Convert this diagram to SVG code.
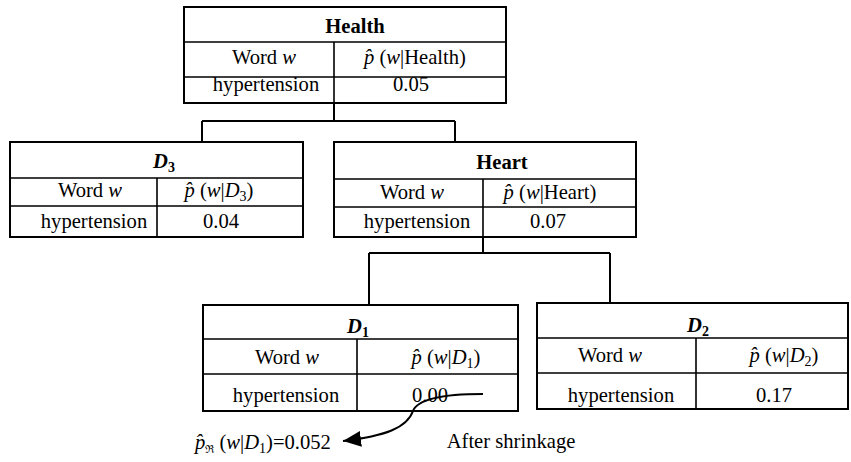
<svg xmlns="http://www.w3.org/2000/svg" width="851" height="462" viewBox="0 0 851 462" font-family="'Liberation Serif', 'DejaVu Serif', 'Times New Roman', serif">
<style>
text{font-family:'Liberation Serif','DejaVu Serif','Times New Roman',serif;font-size:20.6px;fill:#000;text-anchor:middle}
.b{font-weight:bold}
.i{font-style:italic}
.frame{fill:#fff;stroke:#000;stroke-width:2}
.grid{stroke:#000;stroke-width:1.6;fill:none}
.conn{stroke:#000;stroke-width:2;fill:none}
</style>
<defs>
<marker id="ah" markerUnits="userSpaceOnUse" markerWidth="20" markerHeight="18" refX="18" refY="8" orient="auto">
<path d="M0,0 L18,8 L0,16 z" fill="#000"/>
</marker>
</defs>
<rect width="851" height="462" fill="#fff"/>

<g id="health">
<rect class="frame" x="184" y="7" width="322" height="96"/>
<path class="grid" d="M184,42 H506 M184,77 H506 M334,42 V103"/>
<text x="355" y="33" class="b">Health</text>
<text x="264" y="64">Word <tspan class="i">w</tspan></text>
<text x="415" y="64"><tspan class="i">p̂</tspan> (<tspan class="i">w</tspan>|Health)</text>
<text x="266" y="91">hypertension</text>
<text x="411" y="91">0.05</text>
</g>

<g id="d3">
<rect class="frame" x="10" y="142" width="293" height="95"/>
<path class="grid" d="M10,178 H303 M10,206 H303 M157,178 V237"/>
<text x="164" y="168" class="b"><tspan class="i">D</tspan><tspan dy="4" font-size="14">3</tspan></text>
<text x="90" y="197">Word <tspan class="i">w</tspan></text>
<text x="219" y="197"><tspan class="i">p̂</tspan> (<tspan class="i">w</tspan>|<tspan class="i">D</tspan><tspan dy="4" font-size="14">3</tspan><tspan dy="-4">)</tspan></text>
<text x="94" y="228">hypertension</text>
<text x="221" y="228">0.04</text>
</g>

<g id="heart">
<rect class="frame" x="334" y="142" width="302" height="95"/>
<path class="grid" d="M334,179 H636 M334,207 H636 M483,179 V237"/>
<text x="502" y="169" class="b">Heart</text>
<text x="412" y="199">Word <tspan class="i">w</tspan></text>
<text x="550" y="199"><tspan class="i">p̂</tspan> (<tspan class="i">w</tspan>|Heart)</text>
<text x="417" y="228">hypertension</text>
<text x="548" y="228">0.07</text>
</g>

<g id="d1">
<rect class="frame" x="203" y="305" width="315" height="106"/>
<path class="grid" d="M203,339 H518 M203,374 H518 M357,339 V411"/>
<text x="358" y="333" class="b"><tspan class="i">D</tspan><tspan dy="4" font-size="14">1</tspan></text>
<text x="287" y="364">Word <tspan class="i">w</tspan></text>
<text x="446" y="364"><tspan class="i">p̂</tspan> (<tspan class="i">w</tspan>|<tspan class="i">D</tspan><tspan dy="4" font-size="14">1</tspan><tspan dy="-4">)</tspan></text>
<text x="286" y="402">hypertension</text>
<text x="430" y="402">0.00</text>
</g>

<g id="d2">
<rect class="frame" x="537" y="303" width="311" height="106"/>
<path class="grid" d="M537,338 H848 M537,373 H848 M696,338 V409"/>
<text x="698" y="332" class="b"><tspan class="i">D</tspan><tspan dy="4" font-size="14">2</tspan></text>
<text x="610" y="362">Word <tspan class="i">w</tspan></text>
<text x="784" y="362"><tspan class="i">p̂</tspan> (<tspan class="i">w</tspan>|<tspan class="i">D</tspan><tspan dy="4" font-size="14">2</tspan><tspan dy="-4">)</tspan></text>
<text x="621" y="402">hypertension</text>
<text x="774" y="402">0.17</text>
</g>

<g id="labels">
<text x="195" y="449" style="text-anchor:start"><tspan class="i">p̂</tspan><tspan dy="4" font-size="11">ℜ</tspan><tspan dy="-4"> (</tspan><tspan class="i">w</tspan>|<tspan class="i">D</tspan><tspan dy="4" font-size="14">1</tspan><tspan dy="-4">)=0.052</tspan></text>
<text x="511" y="448">After shrinkage</text>
</g>

<g id="connectors">
<path class="conn" d="M334,103 V121 M202,121 H455 M202,121 V142 M455,121 V142"/>
<path class="conn" d="M483,237 V253 M369,253 H610 M369,253 V305 M610,253 V303"/>
<path class="conn" d="M483,394 C445,394 418,398 413,411 C407,428 385,436 343,441" marker-end="url(#ah)"/>
</g>
</svg>
